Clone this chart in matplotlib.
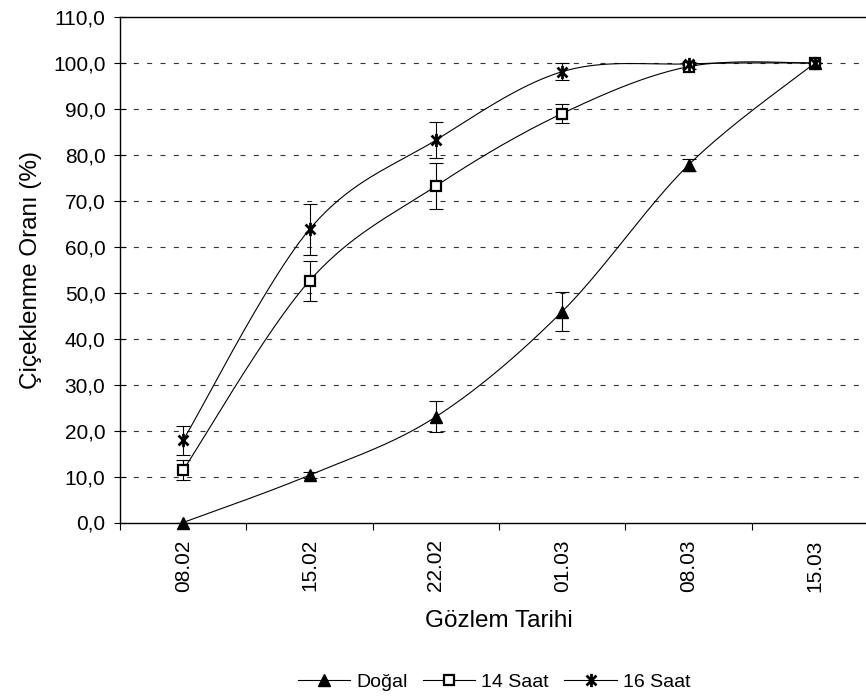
import numpy as np
import matplotlib
matplotlib.use('Agg')
import matplotlib.pyplot as plt
from matplotlib.path import Path

plt.rcParams['font.family'] = ['Liberation Sans', 'DejaVu Sans']
plt.rcParams['lines.scale_dashes'] = False

# data
dates = ['08.02', '15.02', '22.02', '01.03', '08.03', '15.03']
dogal = [0.0, 10.3, 23.0, 45.9, 77.8, 100.0]
dogal_err = [0.0, 0.7, 3.4, 4.2, 1.4, 0.0]
saat14 = [11.4, 52.6, 73.2, 89.0, 99.2, 100.0]
saat14_err = [2.2, 4.3, 5.0, 2.1, 0.5, 0.0]
saat16 = [17.9, 63.8, 83.2, 98.1, 99.8, 100.0]
saat16_err = [3.2, 5.6, 3.9, 1.9, 0.3, 0.0]


def smooth(x, y, n=40):
    # Excel-like smoothed line (Catmull-Rom style bezier)
    x = np.asarray(x, float); y = np.asarray(y, float)
    px, py = [], []
    for i in range(len(x) - 1):
        i0 = max(i - 1, 0); i3 = min(i + 2, len(x) - 1)
        c1x = x[i] + (x[i + 1] - x[i0]) / 6; c1y = y[i] + (y[i + 1] - y[i0]) / 6
        c2x = x[i + 1] - (x[i3] - x[i]) / 6; c2y = y[i + 1] - (y[i3] - y[i]) / 6
        t = np.linspace(0, 1, n)
        a, b, c, d = (1 - t) ** 3, 3 * (1 - t) ** 2 * t, 3 * (1 - t) * t ** 2, t ** 3
        px.extend(a * x[i] + b * c1x + c * c2x + d * x[i + 1])
        py.extend(a * y[i] + b * c1y + c * c2y + d * y[i + 1])
    return px, py


star = Path([(0, -1), (0, 1), (-0.75, -0.75), (0.75, 0.75), (-0.75, 0.75), (0.75, -0.75)],
            [Path.MOVETO, Path.LINETO, Path.MOVETO, Path.LINETO, Path.MOVETO, Path.LINETO])

fig = plt.figure(figsize=(8.66, 6.98), dpi=100)
ax = fig.add_axes([120 / 866, (698 - 522.5) / 698, 758 / 866, 505.5 / 698])

x = np.arange(len(dates)) + 0.5
series = [
    ('Doğal', dogal, dogal_err, dict(marker='^', ms=9, mfc='black', mec='black', mew=1)),
    ('14 Saat', saat14, saat14_err, dict(marker='s', ms=7.5, mfc='white', mec='black', mew=1.6)),
    ('16 Saat', saat16, saat16_err, dict(marker=star, ms=9.5, mfc='none', mec='black', mew=2.0)),
]
handles = []
for name, vals, err, mk in series:
    sx, sy = smooth(x, vals)
    ax.plot(sx, sy, color='black', lw=0.8, zorder=3)
    ax.errorbar(x, vals, yerr=err, fmt='none', ecolor='black', elinewidth=0.8,
                capsize=4.7, capthick=0.8, zorder=4)
    ax.plot(x, vals, ls='none', zorder=5, clip_on=False, **mk)
    h, = ax.plot([], [], color='black', lw=0.8, label=name, **mk)
    handles.append(h)

ax.set_xlim(0, len(dates))
ax.set_ylim(0, 110)
ax.set_yticks(np.arange(0, 111, 10))
ax.set_yticklabels([f'{v:.1f}'.replace('.', ',') for v in np.arange(0, 111, 10)], fontsize=15)
ax.set_xticks(np.arange(0, len(dates) + 1))
ax.set_xticklabels([])
ax.set_xticks(x, minor=True)
ax.set_xticklabels(dates, minor=True, rotation=90, fontsize=15)
ax.tick_params(axis='x', which='major', direction='out', length=5, width=0.8)
ax.tick_params(axis='x', which='minor', length=0, pad=12)
ax.tick_params(axis='y', direction='inout', length=9, width=0.8, pad=6)

for v in range(10, 101, 10):
    ax.axhline(v, color='#333333', lw=0.8, ls=(0, (3.6, 6.0)), zorder=1)

for s in ['left', 'top', 'bottom']:
    ax.spines[s].set_linewidth(1.0)
ax.spines['right'].set_visible(False)

ax.set_ylabel('Çiçeklenme Oranı (%)', fontsize=17.5, labelpad=8)
ax.set_xlabel('Gözlem Tarihi', fontsize=17.5, labelpad=13)

fig.legend(handles=handles, loc='center', bbox_to_anchor=(494 / 866, 16 / 698), ncol=3,
           frameon=False, fontsize=14, handlelength=2.7, handletextpad=0.3, columnspacing=0.8)

fig.savefig('out.png', dpi=100)
